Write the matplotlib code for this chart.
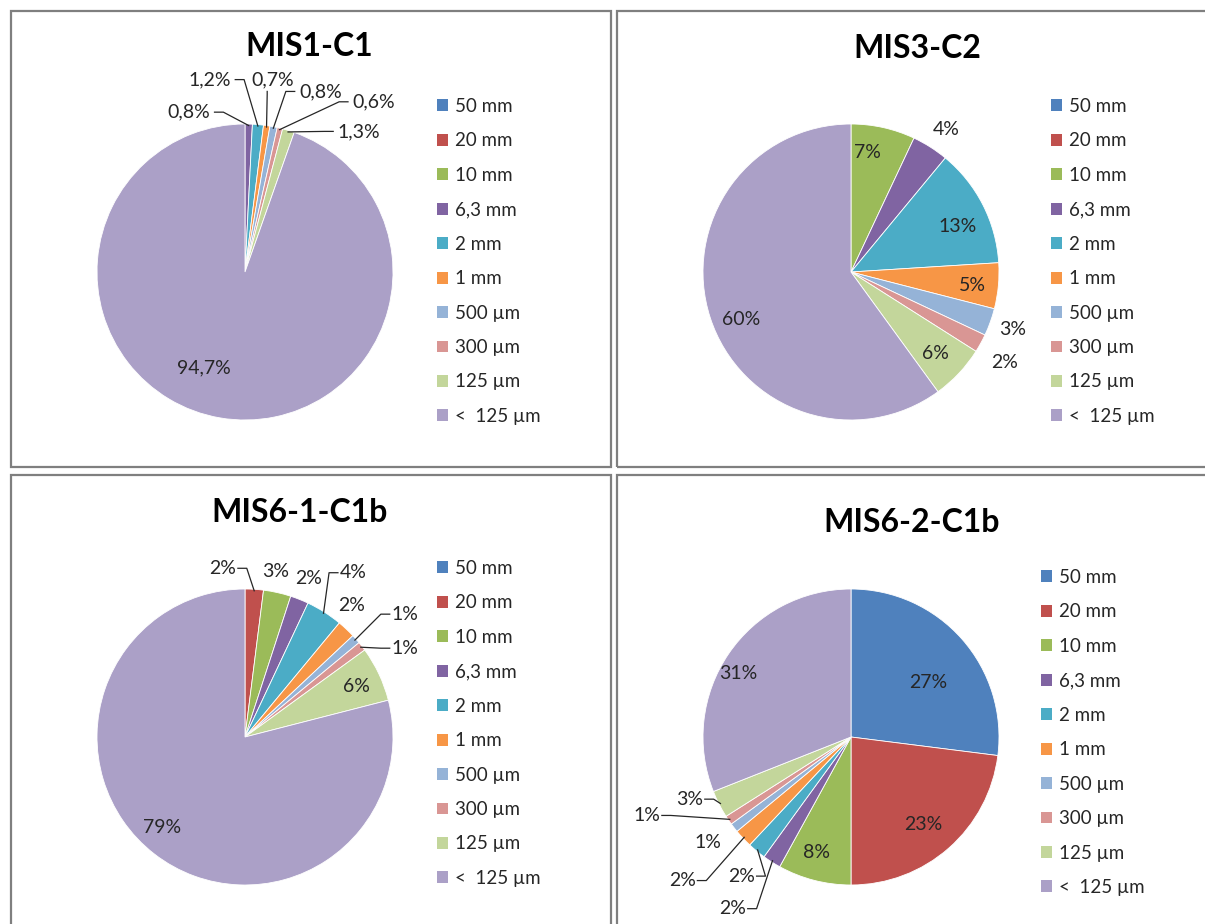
import numpy as np
import matplotlib.pyplot as plt
from matplotlib.patches import Rectangle, Patch

plt.rcParams['font.family'] = ['Lato', 'DejaVu Sans']

# size classes and colours (Excel 2007 palette)
classes = ['50 mm', '20 mm', '10 mm', '6,3 mm', '2 mm', '1 mm',
           '500 µm', '300 µm', '125 µm', '<  125 µm']
colors = ['#4F81BD', '#C0504D', '#9BBB59', '#8064A2', '#4BACC6',
          '#F79646', '#95B3D7', '#D99694', '#C3D69B', '#ABA0C7']

titles = ['MIS1-C1', 'MIS3-C2', 'MIS6-1-C1b', 'MIS6-2-C1b']

mis1_c1 = [0, 0, 0, 0.8, 1.2, 0.7, 0.8, 0.6, 1.3, 94.7]
mis3_c2 = [0, 0, 7, 4, 13, 5, 3, 2, 6, 60]
mis6_1_c1b = [0, 2, 3, 2, 4, 2, 1, 1, 6, 79]
mis6_2_c1b = [27, 23, 8, 2, 2, 2, 1, 1, 3, 31]
data = [mis1_c1, mis3_c2, mis6_1_c1b, mis6_2_c1b]

label_text = [
    ['', '', '', '0,8%', '1,2%', '0,7%', '0,8%', '0,6%', '1,3%', '94,7%'],
    ['', '', '7%', '4%', '13%', '5%', '3%', '2%', '6%', '60%'],
    ['', '2%', '3%', '2%', '4%', '2%', '1%', '1%', '6%', '79%'],
    ['27%', '23%', '8%', '2%', '2%', '2%', '1%', '1%', '3%', '31%'],
]

# label placement (pie radius = 1); leader: 'r' leaves right of text, 'l' left, 'b' below, '' none
label_pos = [
    [None, None, None, (-0.38, 1.08, 'r'), (-0.24, 1.30, 'r'), (0.19, 1.30, 'b'),
     (0.51, 1.22, 'l'), (0.87, 1.15, 'l'), (0.77, 0.95, 'l'), (-0.28, -0.65, '')],
    [None, None, (0.11, 0.81, ''), (0.64, 0.96, ''), (0.72, 0.31, ''), (0.82, -0.09, ''),
     (1.09, -0.39, ''), (1.04, -0.61, ''), (0.57, -0.55, ''), (-0.74, -0.32, '')],
    [None, (-0.15, 1.14, 'r'), (0.21, 1.12, ''), (0.43, 1.07, ''), (0.73, 1.11, 'l'),
     (0.72, 0.89, ''), (1.08, 0.83, 'l'), (1.08, 0.60, 'l'), (0.75, 0.34, ''), (-0.56, -0.61, '')],
    [(0.52, 0.37, ''), (0.49, -0.59, ''), (-0.23, -0.78, ''), (-0.80, -1.16, 'r'),
     (-0.74, -0.94, 'r'), (-1.14, -0.97, 'r'), (-0.97, -0.71, ''), (-1.38, -0.53, 'r'),
     (-1.09, -0.42, 'r'), (-0.76, 0.43, '')],
]

W, H = 1205, 924
fig = plt.figure(figsize=(W / 100, H / 100), dpi=100)

# panel frames (pixels: left, top, right, bottom)
frames = [(11, 11, 611, 467), (617, 11, 1215, 467), (11, 475, 611, 934), (617, 475, 1215, 934)]
pie_centers = [(245, 272), (851, 272), (245, 737), (851, 737)]
title_pos = [(309, 46), (917, 48), (300, 513), (912, 522)]
legend_pos = [(437, 98), (1051, 98), (437, 560), (1041, 569)]
R = 148

for f in frames:
    l, t, r, b = f
    fig.patches.append(Rectangle((l / W, 1 - b / H), (r - l) / W, (b - t) / H,
                                 transform=fig.transFigure, fill=False,
                                 edgecolor='#7f7f7f', linewidth=1.6))

for i in range(4):
    cx, cy = pie_centers[i]
    size = 2 * R * 1.6
    ax = fig.add_axes([(cx - size / 2) / W, 1 - (cy + size / 2) / H, size / W, size / H])
    wedges, _ = ax.pie(data[i], colors=colors, startangle=90, counterclock=False,
                       radius=1.0, wedgeprops=dict(linewidth=0.6, edgecolor='white'))
    ax.set_xlim(-1.6, 1.6)
    ax.set_ylim(-1.6, 1.6)
    ax.set_aspect('equal')
    ax.axis('off')

    for w, txt, pos in zip(wedges, label_text[i], label_pos[i]):
        if pos is None or txt == '':
            continue
        tx, ty, side = pos
        ax.text(tx, ty, txt, ha='center', va='center', fontsize=14, color='#262626')
        if side:
            mid = np.deg2rad((w.theta1 + w.theta2) / 2)
            ex, ey = 0.99 * np.cos(mid), 0.99 * np.sin(mid)
            if side == 'b':
                ax.plot([tx - 0.04, tx - 0.04, ex], [ty - 0.08, ty - 0.10, ey],
                        color='#262626', linewidth=0.9)
                continue
            hw = 0.036 * len(txt) + 0.03
            sx = tx + hw if side == 'r' else tx - hw
            kx = sx + 0.06 if side == 'r' else sx - 0.06
            ax.plot([sx, kx, ex], [ty, ty, ey], color='#262626', linewidth=0.9)

    fig.text(title_pos[i][0] / W, 1 - title_pos[i][1] / H, titles[i],
             ha='center', va='center', fontsize=23, fontweight='bold', color='black')

    handles = [Patch(facecolor=c, edgecolor='none') for c in colors]
    lx, ly = legend_pos[i]
    fig.legend(handles, classes, loc='upper left',
               bbox_to_anchor=(lx / W, 1 - ly / H), frameon=False,
               fontsize=13.5, handlelength=0.6, handleheight=0.6,
               handletextpad=0.35, labelspacing=0.93, borderpad=0,
               borderaxespad=0, labelcolor='#262626')

fig.savefig('out.png', dpi=100)
